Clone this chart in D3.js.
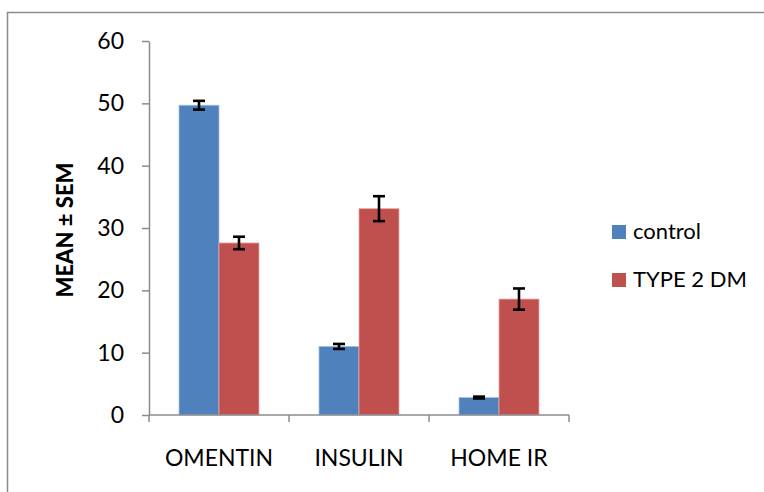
<!DOCTYPE html>
<html>
<head>
<meta charset="utf-8">
<script src="https://cdn.jsdelivr.net/npm/d3@7"></script>
<style>
  body { margin: 0; background: #fff; }
  text { font-family: Lato, "Open Sans", sans-serif; fill: #000; }
</style>
</head>
<body>
<script>
// data
const categories = ['OMENTIN', 'INSULIN', 'HOME IR'];
const series = ['control', 'TYPE 2 DM'];
const controlMean = [49.7, 11.0, 2.8];
const controlSem = [0.7, 0.4, 0.15];
const dmMean = [27.6, 33.1, 18.6];
const dmSem = [1.0, 2.0, 1.7];
const yTicks = [0, 10, 20, 30, 40, 50, 60];
const colors = ['#4f81bd', '#c0504d'];

const W = 764, H = 492;
const plotLeft = 149, plotRight = 569, plotTop = 41, plotBottom = 415;

const svg = d3.select('body').append('svg')
    .attr('width', W)
    .attr('height', H);

// outer frame
svg.append('rect')
    .attr('x', 7.5).attr('y', 12.5)
    .attr('width', 800).attr('height', 600)
    .attr('fill', 'none')
    .attr('stroke', '#8c8c8c')
    .attr('stroke-width', 1.5);

const x0 = d3.scaleBand().domain(categories).range([plotLeft, plotRight]);
const x1 = d3.scaleBand().domain(series).range([30, 110]);
const y = d3.scaleLinear().domain([0, 60]).range([plotBottom, plotTop]);

// y axis
const yAxis = svg.append('g')
    .attr('transform', `translate(${plotLeft},0)`)
    .call(d3.axisLeft(y).tickValues(yTicks).tickSize(7).tickPadding(18).tickSizeOuter(0));
yAxis.select('.domain').attr('stroke', '#8c8c8c').attr('stroke-width', 1.5);
yAxis.selectAll('.tick line').attr('stroke', '#8c8c8c').attr('stroke-width', 1.5);
yAxis.selectAll('.tick text')
    .style('font-family', 'Lato, sans-serif')
    .attr('font-size', 23)
    .attr('fill', '#000');

// bars
const rows = categories.map((c, i) => ({
    cat: c,
    vals: [
        { s: series[0], m: controlMean[i], e: controlSem[i] },
        { s: series[1], m: dmMean[i], e: dmSem[i] }
    ]
}));

const groups = svg.selectAll('g.grp')
    .data(rows)
    .enter().append('g')
    .attr('class', 'grp')
    .attr('transform', d => `translate(${x0(d.cat)},0)`);

groups.selectAll('rect')
    .data(d => d.vals)
    .enter().append('rect')
    .attr('x', d => x1(d.s))
    .attr('y', d => y(d.m))
    .attr('width', x1.bandwidth())
    .attr('height', d => y(0) - y(d.m))
    .attr('fill', (d, i) => colors[i])
    .attr('stroke', (d, i) => i ? '#e8a7a5' : '#a9c0e0')
    .attr('stroke-width', 0.8);

// error bars
const err = groups.selectAll('g.err')
    .data(d => d.vals)
    .enter().append('g')
    .attr('class', 'err')
    .attr('stroke', '#000')
    .attr('stroke-width', 2.6);
const cx = d => x1(d.s) + x1.bandwidth() / 2;
err.append('line')
    .attr('x1', cx).attr('x2', cx)
    .attr('y1', d => y(d.m - d.e)).attr('y2', d => y(d.m + d.e));
err.append('line')
    .attr('x1', d => cx(d) - 6).attr('x2', d => cx(d) + 6)
    .attr('y1', d => y(d.m - d.e)).attr('y2', d => y(d.m - d.e));
err.append('line')
    .attr('x1', d => cx(d) - 6).attr('x2', d => cx(d) + 6)
    .attr('y1', d => y(d.m + d.e)).attr('y2', d => y(d.m + d.e));

// x axis
svg.append('line')
    .attr('x1', plotLeft).attr('x2', plotRight)
    .attr('y1', y(0)).attr('y2', y(0))
    .attr('stroke', '#8c8c8c').attr('stroke-width', 1.5);
const bounds = categories.map(c => x0(c)).concat([plotRight]);
svg.selectAll('line.xt')
    .data(bounds)
    .enter().append('line')
    .attr('class', 'xt')
    .attr('x1', d => d).attr('x2', d => d)
    .attr('y1', y(0)).attr('y2', y(0) + 7)
    .attr('stroke', '#8c8c8c').attr('stroke-width', 1.5);
svg.selectAll('text.xl')
    .data(categories)
    .enter().append('text')
    .attr('class', 'xl')
    .attr('x', d => x0(d) + x0.bandwidth() / 2)
    .attr('y', 466)
    .attr('text-anchor', 'middle')
    .attr('font-size', 23)
    .text(d => d);

// y title
svg.append('text')
    .attr('transform', 'translate(73,230) rotate(-90)')
    .attr('text-anchor', 'middle')
    .attr('font-size', 22)
    .attr('font-weight', 900)
    .text('MEAN ± SEM');

// legend
const legend = svg.selectAll('g.leg')
    .data(series)
    .enter().append('g')
    .attr('class', 'leg')
    .attr('transform', (d, i) => `translate(612,${225 + i * 48})`);
legend.append('rect')
    .attr('width', 14).attr('height', 14)
    .attr('fill', (d, i) => colors[i]);
legend.append('text')
    .attr('x', 21).attr('y', 14)
    .attr('font-size', 22)
    .text(d => d);
</script>
</body>
</html>
